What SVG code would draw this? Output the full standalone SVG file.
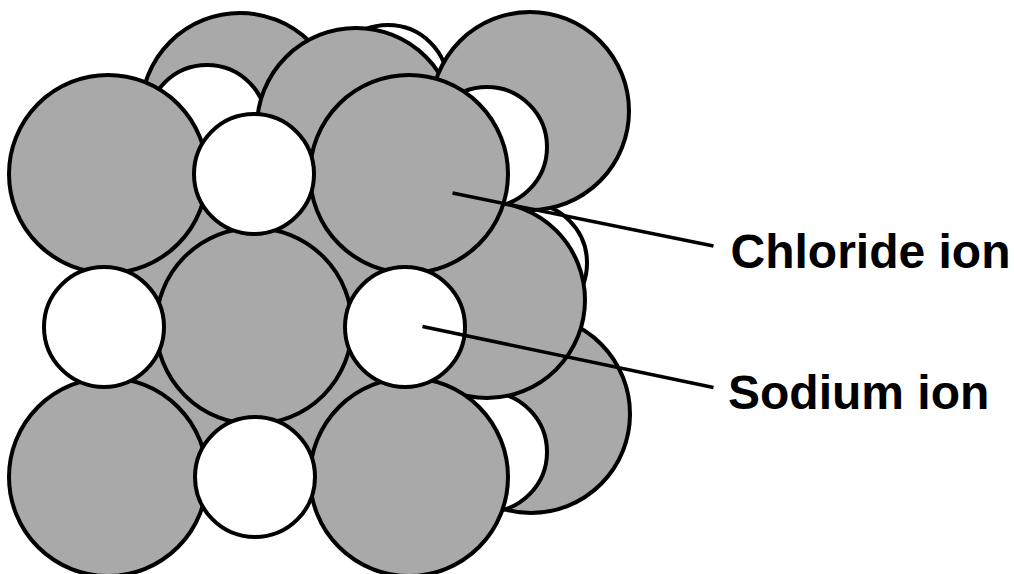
<svg xmlns="http://www.w3.org/2000/svg" width="1014" height="574" viewBox="0 0 1014 574">
  <style>
    .cl { fill: #a9a9a9; stroke: #000; stroke-width: 4; }
    .na { fill: #fff; stroke: #000; stroke-width: 4; }
    .core { fill: #a9a9a9; stroke: none; }
    .leader { stroke: #000; stroke-width: 3.5; fill: none; stroke-linecap: butt; }
    .label { font-family: "Liberation Sans", Arial, sans-serif; font-weight: bold; font-size: 48px; fill: #000; }
  </style>
  <rect width="1014" height="574" fill="#fff"/>

  <!-- rear ions, drawn back to front -->
  <g id="rear-layer">
    <circle id="rear-cl-top-left" class="cl" cx="240" cy="112" r="99"/>
    <circle id="rear-na-top-left" class="na" cx="207" cy="125" r="60"/>
    <circle id="rear-na-top-mid" class="na" cx="388" cy="85" r="60"/>
    <circle id="rear-cl-top-mid" class="cl" cx="356" cy="127" r="99"/>
    <circle id="rear-na-right-mid" class="na" cx="527" cy="263" r="60"/>
    <circle id="rear-cl-top-right" class="cl" cx="530" cy="111" r="99"/>
    <circle id="rear-na-top-right" class="na" cx="487" cy="147" r="60"/>
    <circle id="rear-cl-bottom-right" class="cl" cx="531" cy="414" r="99"/>
    <circle id="rear-na-bottom-right" class="na" cx="487" cy="452" r="60"/>
    <circle id="rear-cl-right-mid" class="cl" cx="487" cy="300" r="98"/>
    <!-- fills the small gaps between the front ions -->
    <rect id="inner-fill" class="core" x="108" y="174" width="301" height="303"/>
  </g>

  <!-- front face: chloride ions first, sodium ions on top -->
  <g id="front-layer">
    <circle id="cl-1" class="cl" cx="108" cy="174" r="99"/>
    <circle id="cl-2" class="cl" cx="409" cy="174" r="99"/>
    <circle id="cl-3" class="cl" cx="254" cy="326" r="98"/>
    <circle id="cl-4" class="cl" cx="108" cy="477" r="99"/>
    <circle id="cl-5" class="cl" cx="409" cy="477" r="99"/>
    <circle id="na-1" class="na" cx="254" cy="174" r="60"/>
    <circle id="na-2" class="na" cx="104" cy="327" r="60"/>
    <circle id="na-3" class="na" cx="405" cy="327" r="60"/>
    <circle id="na-4" class="na" cx="255" cy="477" r="60"/>
  </g>

  <g id="connectors">
    <line class="leader" x1="452.5" y1="193" x2="713.5" y2="246"/>
    <line class="leader" x1="422.5" y1="326.5" x2="713.5" y2="387.5"/>
  </g>

  <g id="labels">
    <text id="label-chloride" class="label" x="730.5" y="267.5">Chloride ion</text>
    <text id="label-sodium" class="label" x="728" y="408.5">Sodium ion</text>
  </g>
</svg>
